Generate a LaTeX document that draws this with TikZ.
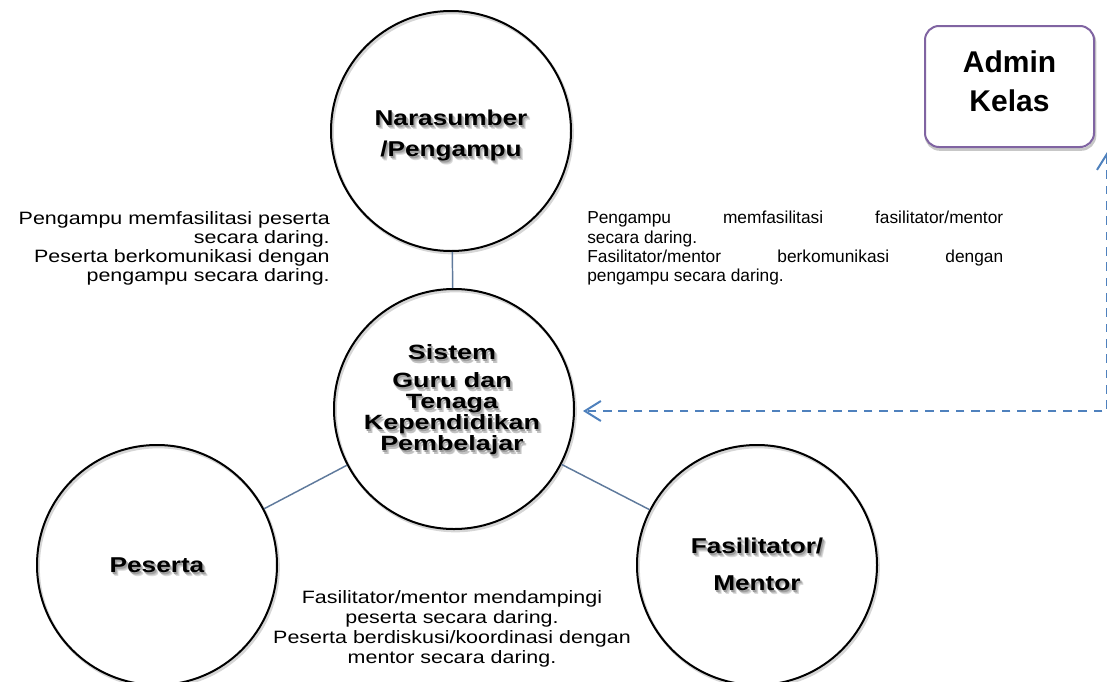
\documentclass[tikz,border=0pt]{standalone}
\usepackage{fontspec}
\setmainfont{Liberation Sans}
\newfontfamily\wideface[FakeStretch=1.2]{Liberation Sans}
\newfontfamily\roundface[FakeStretch=1.22]{Liberation Sans}
\newfontfamily\hubface[FakeStretch=1.3]{Liberation Sans}
\usetikzlibrary{arrows.meta}
\definecolor{linkblue}{HTML}{4F81BD}
\definecolor{spokegray}{HTML}{5F7A9C}
\definecolor{adminpurple}{HTML}{8064A2}
% keep baselines evenly spaced even when lines are tall
\lineskiplimit=-16000pt
% bold role name with a soft dark halo underneath each line
\newcommand{\halotext}[1]{%
  \leavevmode
  \rlap{\smash{\hspace{2.4pt}\raisebox{-3pt}{\color{black!14}#1}}}%
  \rlap{\smash{\hspace{0.3pt}\raisebox{-1pt}{\color{black!14}#1}}}%
  \rlap{\smash{\hspace{1.8pt}\raisebox{-2.4pt}{\color{black!24}#1}}}%
  \rlap{\smash{\hspace{1pt}\raisebox{-1.6pt}{\color{black!38}#1}}}%
  #1}
\tikzset{
  ring/.style={circle, draw=black, line width=1.5pt, minimum size=180pt, inner sep=0pt},
  ringshadow/.style={circle, draw=black!16, line width=2pt, minimum size=180pt, inner sep=0pt},
  rolelabel/.style={align=center, inner sep=0pt,
    font=\roundface\bfseries\fontsize{16.1}{23.25}\selectfont},
  spoke/.style={draw=spokegray, line width=1.1pt},
  widenote/.style={inner sep=0pt, font=\wideface\fontsize{13.4}{14.4}\selectfont},
  plainnote/.style={inner sep=0pt, font=\fontsize{13}{14.5}\selectfont},
  adminbox/.style={draw=adminpurple, line width=1.5pt, rounded corners=10.5pt, fill=white,
    minimum width=126.75pt, minimum height=90.75pt, inner sep=0pt},
  adminshadow/.style={draw=black!22, line width=2pt, rounded corners=10.5pt,
    minimum width=126.75pt, minimum height=90.75pt, inner sep=0pt},
  adminlabel/.style={align=center, inner sep=0pt, font=\bfseries\fontsize{22.5}{29.25}\selectfont},
  dashlink/.style={draw=linkblue, line width=1.5pt, dash pattern=on 6.5pt off 5pt,
    {Straight Barb[length=12pt,width=15pt]}-{Straight Barb[length=12pt,width=15pt]}}
}
\begin{document}
\begin{tikzpicture}[x=0.75pt, y=-0.75pt]
\useasboundingbox (0,0) rectangle (1107,682);

% circles with faint shadow
\node[ringshadow] (nara-sh) at (452.5,133) {};
\node[ringshadow] (hub-sh) at (455.5,411) {};
\node[ringshadow] (peserta-sh) at (158.5,567) {};
\node[ringshadow] (fasil-sh) at (758.5,567) {};
\node[ring] (nara) at (451,131) {};
\node[ring] (hub) at (454,409) {};
\node[ring] (peserta) at (157,565) {};
\node[ring] (fasil) at (757,565) {};

% spokes
\draw[spoke] (nara) -- (hub);
\draw[spoke] (hub) -- (peserta);
\draw[spoke] (hub) -- (fasil);

% role names
\node[rolelabel] (naralabel) at (451,135.5) {\halotext{Narasumber}\\\halotext{/Pengampu}};
\node[rolelabel, font=\hubface\bfseries\fontsize{15.5}{15.75}\selectfont] (hublabel) at (452,400)
  {\halotext{Sistem}\\[5.25pt]\halotext{Guru dan}\\\halotext{Tenaga}\\\halotext{Kependidikan}\\\halotext{Pembelajar}};
\node[rolelabel] (pesertalabel) at (157,565) {\halotext{Peserta}};
\node[rolelabel, font=\roundface\bfseries\fontsize{16.1}{27.75}\selectfont] (fasillabel) at (757,564)
  {\halotext{Fasilitator/}\\\halotext{Mentor}};

% admin box
\node[adminshadow] (admin-sh) at (1010.5,89) {};
\node[adminbox] (admin) at (1009.5,86.5) {};
\node[adminlabel] (adminlabel) at (1009.5,81) {Admin\\Kelas};

% dashed elbow link between admin and hub
\coordinate (adminport) at ([xshift=9pt,yshift=-3pt]admin.south east);
\coordinate (hubport) at ([xshift=6pt,yshift=-1.5pt]hub.east);
\draw[dashlink] (adminport) |- (hubport);

% notes
\node[widenote, align=right, anchor=north east] (noteleft) at (330,211)
  {Pengampu memfasilitasi peserta\\secara daring.\\Peserta berkomunikasi dengan\\pengampu secara daring.};
\node[plainnote, align=left, anchor=north west] (noteright) at (587,211)
  {\makebox[312pt][s]{Pengampu memfasilitasi fasilitator/mentor}\\secara daring.\\\makebox[312pt][s]{Fasilitator/mentor berkomunikasi dengan}\\pengampu secara daring.};
\node[widenote, align=center, font=\wideface\fontsize{13.4}{15}\selectfont] (notebottom) at (452,628.5)
  {Fasilitator/mentor mendampingi\\peserta secara daring.\\Peserta berdiskusi/koordinasi dengan\\mentor secara daring.};
\end{tikzpicture}
\end{document}
